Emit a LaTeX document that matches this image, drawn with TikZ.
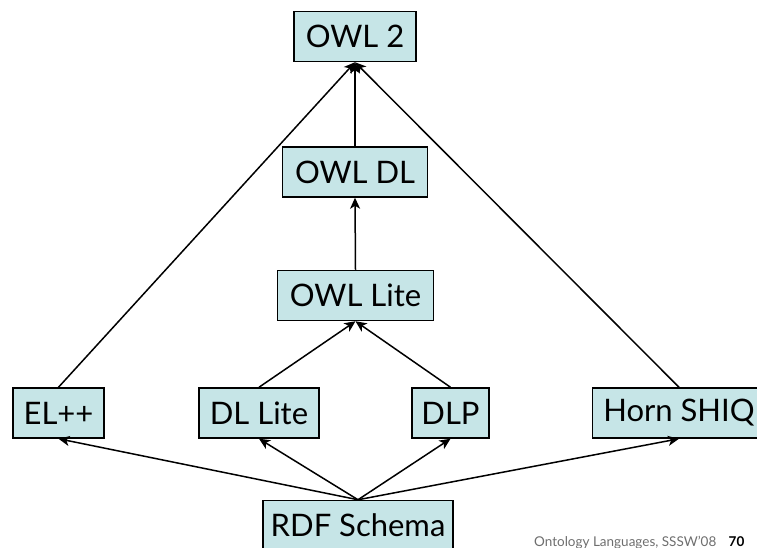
\documentclass[tikz,border=0pt]{standalone}
\usepackage{fontspec}
\setmainfont{Lato}
\usetikzlibrary{arrows.meta}
\definecolor{boxfill}{RGB}{198,229,231}
\definecolor{footgray}{RGB}{110,110,110}
\tikzset{lang/.style={draw,line width=1.5pt,fill=boxfill,minimum height=50pt,inner sep=0pt,font=\fontsize{31}{34}\selectfont},
sub/.style={-{Stealth[length=11pt,width=10pt,inset=3pt]},line width=1.5pt}}

\begin{document}
\begin{tikzpicture}[x=1pt,y=-1pt]
\clip (0,0) rectangle (757,548);
\node[lang,minimum width=122pt] (owltwo) at (355,36.5) {OWL 2};
\node[lang,minimum width=145pt] (owldl) at (355,172) {OWL DL};
\node[lang,minimum width=156pt] (owllite) at (355.5,295.5) {OWL Lite};
\node[lang,minimum width=91pt] (elpp) at (58.5,413) {EL++};
\node[lang,minimum width=120pt] (dllite) at (259,413) {DL Lite};
\node[lang,minimum width=77pt] (dlp) at (450.5,413) {DLP};
\node[lang,minimum width=173pt] (horn) at (679,413) {Horn SHIQ};
\node[lang,minimum width=190pt] (rdfs) at (358,525.5) {RDF Schema};
\foreach \a in {elpp,owldl,horn} {\draw[sub] (\a.north)--(owltwo.south);}
\draw[sub] (owllite.north)--(owldl.south);
\foreach \a in {dllite,dlp} {\draw[sub] (\a.north)--(owllite.south);}
\foreach \a in {elpp,dllite,dlp,horn} {\draw[sub] (rdfs.north)--(\a.south);}
\node[anchor=base west,inner sep=0pt,text=footgray,font=\fontsize{13.5}{15}\selectfont] (foot) at (534,546) {Ontology Languages, SSSW'08};
\node[anchor=base west,inner sep=0pt,font=\fontsize{13.5}{15}\selectfont\bfseries] (page) at ([xshift=12pt]foot.base east) {70};
\end{tikzpicture}
\end{document}
